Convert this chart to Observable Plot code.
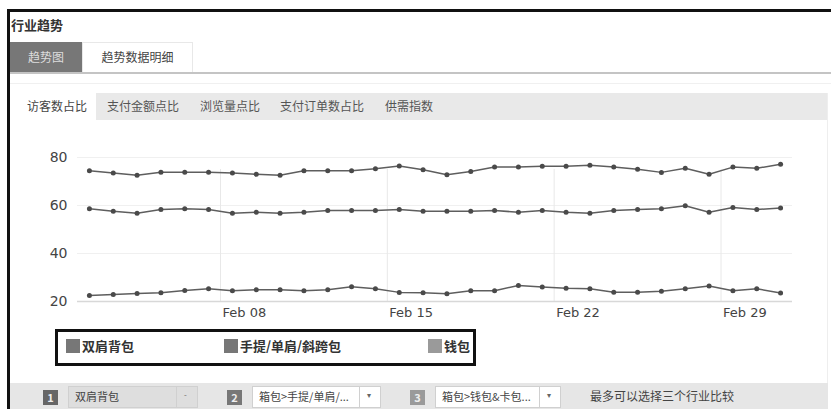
<!DOCTYPE html>
<html><head><meta charset="utf-8">
<script src="https://cdn.jsdelivr.net/npm/d3@7"></script>
<script src="https://cdn.jsdelivr.net/npm/@observablehq/plot@0.6"></script>
<style>
body{margin:0;width:831px;height:409px;overflow:hidden;background:#fff;position:relative;font-family:"Noto Sans CJK SC","Noto Sans",sans-serif;color:#444;}
.a{position:absolute;}
.t{font-size:12px;line-height:1;white-space:nowrap;}
#chart{position:absolute;left:0;top:135px;}
</style></head>
<body>
<div class="a" style="left:8px;top:9px;width:823px;height:3px;background:#111"></div>
<div class="a" style="left:7px;top:9px;width:3px;height:400px;background:#111"></div>
<div class="a t" style="left:11px;top:18px;font-size:13px;font-weight:bold;color:#333">行业趋势</div>
<div class="a" style="left:10px;top:42px;width:72px;height:31px;background:#777"></div>
<div class="a t" style="left:10px;top:51px;width:72px;text-align:center;color:#ddd">趋势图</div>
<div class="a" style="left:82px;top:42px;width:109px;height:30px;border:1px solid #e8e8e8;border-bottom:none;background:#fff"></div>
<div class="a t" style="left:82px;top:51px;width:111px;text-align:center;color:#444">趋势数据明细</div>
<div class="a" style="left:10px;top:72px;width:821px;height:2px;background:#c4c4c4"></div>
<div class="a" style="left:10px;top:83px;width:821px;height:1px;background:#f0f0f0"></div>
<div class="a" style="left:96px;top:93px;width:731px;height:27px;background:#e9e9e9"></div>
<div class="a t" style="left:27px;top:100px;color:#444">访客数占比</div>
<div class="a t" style="left:107px;top:100px;color:#555">支付金额点比</div>
<div class="a t" style="left:200px;top:100px;color:#555">浏览量点比</div>
<div class="a t" style="left:280px;top:100px;color:#555">支付订单数占比</div>
<div class="a t" style="left:385px;top:100px;color:#555">供需指数</div>
<div class="a" style="left:827px;top:93px;width:1px;height:297px;background:#eee"></div>
<div id="chart"></div>
<div id="legend" class="a" style="left:55px;top:329px;width:415px;height:31px;border:3px solid #111;"></div>
<div id="bar" class="a" style="left:10px;top:383px;width:818px;height:26px;background:#e6e6e6"></div>
<script>
const seriesNames = ["双肩背包", "手提/单肩/斜跨包", "钱包"];
const dates = ["2016-02-02","2016-02-03","2016-02-04","2016-02-05","2016-02-06","2016-02-07","2016-02-08","2016-02-09","2016-02-10","2016-02-11","2016-02-12","2016-02-13","2016-02-14","2016-02-15","2016-02-16","2016-02-17","2016-02-18","2016-02-19","2016-02-20","2016-02-21","2016-02-22","2016-02-23","2016-02-24","2016-02-25","2016-02-26","2016-02-27","2016-02-28","2016-02-29","2016-03-01","2016-03-02"];
const seriesA = [74.5,73.5,72.6,73.9,73.9,73.9,73.5,73.0,72.6,74.5,74.5,74.5,75.3,76.5,74.9,72.8,74.2,76.0,76.0,76.4,76.4,76.8,76.0,75.1,73.8,75.5,73.0,76.0,75.5,77.2];
const seriesB = [58.6,57.6,56.8,58.3,58.6,58.3,56.8,57.2,56.8,57.2,57.9,57.9,57.9,58.3,57.6,57.6,57.6,57.9,57.2,57.9,57.2,56.8,57.9,58.3,58.6,59.9,57.2,59.2,58.3,59.0];
const seriesC = [22.5,22.9,23.3,23.6,24.6,25.3,24.5,24.9,24.9,24.5,24.9,26.1,25.3,23.8,23.6,23.2,24.5,24.5,26.7,26.0,25.5,25.3,23.9,23.9,24.3,25.3,26.5,24.5,25.3,23.5];
const yTicks = [20, 40, 60, 80];
const xTicks = ["2016-02-08","2016-02-15","2016-02-22","2016-02-29"];
const xDomain = ["2016-02-02","2016-03-03"];
const swatchColors = ["#777", "#777", "#9a9a9a"];
const bottomItems = [
  {n:"1", text:"双肩背包"},
  {n:"2", text:"箱包>手提/单肩/..."},
  {n:"3", text:"箱包>钱包&卡包..."}
];
const bottomNote = "最多可以选择三个行业比较";

const rows = [];
[seriesA, seriesB, seriesC].forEach((vals, si) => {
  vals.forEach((v, i) => rows.push({series: seriesNames[si], date: new Date(dates[i] + "T12:00:00Z"), value: v}));
});
const tickDates = xTicks.map(d => new Date(d + "T00:00:00Z"));

const chart = Plot.plot({
  width: 831, height: 190,
  marginLeft: 77, marginRight: 39, marginTop: 22, marginBottom: 24,
  style: {fontFamily: "DejaVu Sans, sans-serif", background: "transparent"},
  x: {type: "utc", domain: xDomain.map(d => new Date(d + "T00:00:00Z"))},
  y: {domain: [20, 80]},
  marks: [
    Plot.ruleY([40, 60, 80], {stroke: "#f0f0f0"}),
    Plot.ruleX(tickDates, {x: d => d, y1: 75, y2: 20, stroke: "#e8e8e8"}),
    Plot.ruleY([20], {stroke: "#d8d8d8", strokeWidth: 1.5}),
    Plot.axisY(yTicks, {tickSize: 0, tickPadding: 10, fontSize: 14, fill: "#444", label: null}),
    Plot.axisX(tickDates, {tickSize: 0, tickPadding: 6, fontSize: 13, fill: "#444", textAnchor: "start", dx: 2, tickFormat: d3.utcFormat("%b %d"), label: null}),
    Plot.line(rows, {x: "date", y: "value", z: "series", stroke: "#5e5e5e", strokeWidth: 1.5}),
    Plot.dot(rows, {x: "date", y: "value", r: 2.5, fill: "#4a4a4a", stroke: "none"})
  ]
});
document.getElementById("chart").appendChild(chart);

// legend
const legend = document.getElementById("legend");
const legendX = [8, 166, 370];
seriesNames.forEach((name, i) => {
  const sw = document.createElement("div");
  sw.className = "a";
  sw.style.cssText = `left:${legendX[i]}px;top:7px;width:14px;height:14px;background:${swatchColors[i]}`;
  legend.appendChild(sw);
  const tx = document.createElement("div");
  tx.className = "a t";
  tx.style.cssText = `left:${legendX[i] + 16}px;top:7px;font-size:13px;font-weight:bold;color:#333`;
  tx.textContent = name;
  legend.appendChild(tx);
});

// bottom selector bar
const bar = document.getElementById("bar");
const numX = [33, 217, 400];
const boxW = [130, 129, 126];
const numBg = ["#666", "#777", "#9a9a9a"];
bottomItems.forEach((it, i) => {
  const nb = document.createElement("div");
  nb.className = "a t";
  nb.style.cssText = `left:${numX[i]}px;top:7px;width:15px;height:15px;background:${numBg[i]};color:#eee;font-size:11px;text-align:center;line-height:15px;font-weight:bold`;
  nb.textContent = it.n;
  bar.appendChild(nb);
  const box = document.createElement("div");
  box.className = "a";
  box.style.cssText = `left:${numX[i] + 25}px;top:3px;width:${boxW[i]}px;height:22px;background:${i === 0 ? "#dedede" : "#fff"};border:1px solid #d0d0d0;box-sizing:border-box`;
  bar.appendChild(box);
  const bt = document.createElement("div");
  bt.className = "a t";
  bt.style.cssText = `left:${numX[i] + 32}px;top:8px;font-size:11px;color:#444`;
  bt.textContent = it.text;
  bar.appendChild(bt);
  const sep = document.createElement("div");
  sep.className = "a";
  sep.style.cssText = `left:${numX[i] + 25 + boxW[i] - 22}px;top:3px;width:1px;height:22px;background:#d0d0d0`;
  bar.appendChild(sep);
  const ar = document.createElement("div");
  ar.className = "a t";
  ar.style.cssText = `left:${numX[i] + 25 + boxW[i] - 14}px;top:8px;font-size:8px;color:#666`;
  ar.textContent = i === 0 ? "-" : "▾";
  bar.appendChild(ar);
});
const note = document.createElement("div");
note.className = "a t";
note.style.cssText = "left:580px;top:7px;font-size:12px;color:#444";
note.textContent = bottomNote;
bar.appendChild(note);
</script>
</body></html>
